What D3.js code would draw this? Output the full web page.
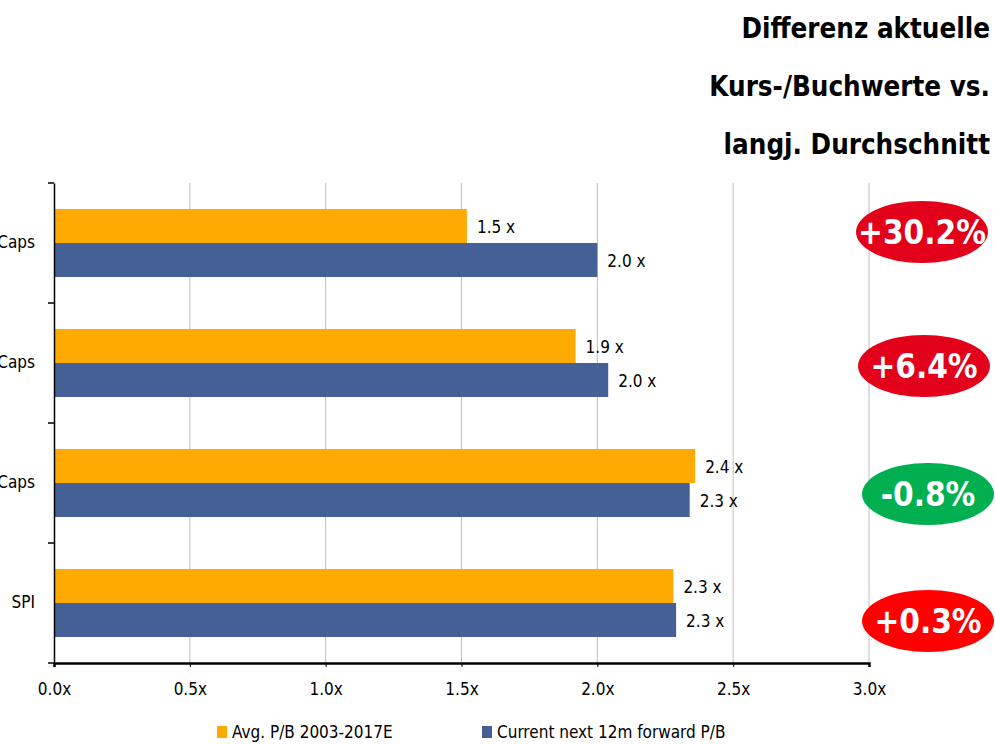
<!DOCTYPE html>
<html>
<head>
<meta charset="utf-8">
<script src="https://cdn.jsdelivr.net/npm/d3@7"></script>
<style>
  html, body { margin: 0; padding: 0; background: #fff; }
  svg { display: block; }
  text { font-family: "DejaVu Sans Condensed", "DejaVu Sans", sans-serif; }
</style>
</head>
<body>
<svg id="chart" width="995" height="744"></svg>
<script>
// Segments (top to bottom) and P/B multiples
const categories = ["Small Caps", "Mid Caps", "Large Caps", "SPI"];
const avgPB = [1.52, 1.92, 2.36, 2.28];       // Avg. P/B 2003-2017E
const currentPB = [2.00, 2.04, 2.34, 2.29];   // Current next 12m forward P/B
const diffLabels = ["+30.2%", "+6.4%", "-0.8%", "+0.3%"];
const diffColors = ["#e2001a", "#e2001a", "#00b050", "#ff0000"];
const xTicks = [0, 0.5, 1.0, 1.5, 2.0, 2.5, 3.0];
const seriesNames = ["Avg. P/B 2003-2017E", "Current next 12m forward P/B"];
const seriesColors = ["#ffaa00", "#446096"];
const titleLines = ["Differenz aktuelle", "Kurs-/Buchwerte vs.", "langj. Durchschnitt"];

const FONT = "DejaVu Sans Condensed, DejaVu Sans, sans-serif";
const svg = d3.select("#chart");
const plot = { left: 54, right: 869, top: 183, bottom: 663 };

const x = d3.scaleLinear().domain([0, 3]).range([plot.left, plot.right]);
const y = d3.scaleBand().domain(categories).range([plot.top, plot.bottom]).padding(0);
const sub = d3.scaleBand().domain([0, 1]).range([0, y.bandwidth()]).paddingOuter(0.765).paddingInner(0);

// Title
svg.append("g").selectAll("text").data(titleLines).join("text")
  .attr("x", 990).attr("y", (d, i) => 38 + i * 58)
  .attr("text-anchor", "end")
  .attr("font-size", 27.5).attr("font-weight", "bold").attr("fill", "#000")
  .text(d => d);

// Vertical gridlines
svg.append("g").selectAll("line").data(xTicks.filter(t => t > 0)).join("line")
  .attr("x1", d => x(d)).attr("x2", d => x(d))
  .attr("y1", plot.top).attr("y2", plot.bottom)
  .attr("stroke", "#bfbfbf").attr("stroke-width", 1);

// Bars
const rows = categories.map((c, i) => ({ cat: c, vals: [avgPB[i], currentPB[i]] }));
const groups = svg.append("g").selectAll("g").data(rows).join("g")
  .attr("transform", d => `translate(0,${y(d.cat)})`);

groups.selectAll("rect").data(d => d.vals.map((v, s) => ({ v, s }))).join("rect")
  .attr("x", x(0)).attr("y", d => sub(d.s))
  .attr("width", d => x(d.v) - x(0)).attr("height", sub.bandwidth())
  .attr("fill", d => seriesColors[d.s]);

groups.selectAll("text.val").data(d => d.vals.map((v, s) => ({ v, s }))).join("text")
  .attr("class", "val")
  .attr("x", d => x(d.v) + 10).attr("y", d => sub(d.s) + sub.bandwidth() / 2 + 7)
  .attr("font-size", 17).attr("fill", "#000")
  .text(d => d3.format(".1f")(d.v) + " x");

// Y axis (category labels)
const yAxis = d3.axisLeft(y).tickSize(0).tickPadding(19);
const yg = svg.append("g").attr("transform", `translate(${plot.left},0)`).call(yAxis);
yg.select(".domain").attr("stroke", "#000").attr("stroke-width", 1.5);
yg.selectAll("text").attr("font-size", 17).attr("fill", "#000").attr("font-family", FONT);
// Boundary ticks between categories
const bounds = categories.map(c => y(c)).concat([plot.bottom]);
svg.append("g").selectAll("line").data(bounds).join("line")
  .attr("x1", plot.left - 6).attr("x2", plot.left)
  .attr("y1", d => d).attr("y2", d => d)
  .attr("stroke", "#000").attr("stroke-width", 1.5);

// X axis
const xAxis = d3.axisBottom(x).tickValues(xTicks).tickSize(4).tickPadding(16)
  .tickFormat(d => d3.format(".1f")(d) + "x");
const xg = svg.append("g").attr("transform", `translate(0,${plot.bottom})`).call(xAxis);
xg.select(".domain").attr("stroke", "#000").attr("stroke-width", 2.5);
xg.selectAll(".tick line").attr("stroke", "#000");
xg.selectAll("text").attr("font-size", 17).attr("fill", "#000").attr("font-family", FONT);

// Difference badges
const badgeX = [922, 924, 928, 928];
const badgeY = [232, 366, 494, 621];
const badges = svg.append("g").selectAll("g").data(diffLabels).join("g")
  .attr("transform", (d, i) => `translate(${badgeX[i]},${badgeY[i]})`);
badges.append("ellipse").attr("rx", 66).attr("ry", 31)
  .attr("fill", (d, i) => diffColors[i]);
badges.append("text")
  .attr("text-anchor", "middle").attr("y", 12)
  .attr("font-size", 33).attr("font-weight", "bold").attr("fill", "#fff")
  .text(d => d);

// Legend
const legendX = [217, 482];
const leg = svg.append("g").selectAll("g").data(seriesNames).join("g")
  .attr("transform", (d, i) => `translate(${legendX[i]},726)`);
leg.append("rect").attr("width", 10).attr("height", 12).attr("fill", (d, i) => seriesColors[i]);
leg.append("text").attr("x", 15).attr("y", 12).attr("font-size", 17).attr("fill", "#000").text(d => d);
</script>
</body>
</html>
